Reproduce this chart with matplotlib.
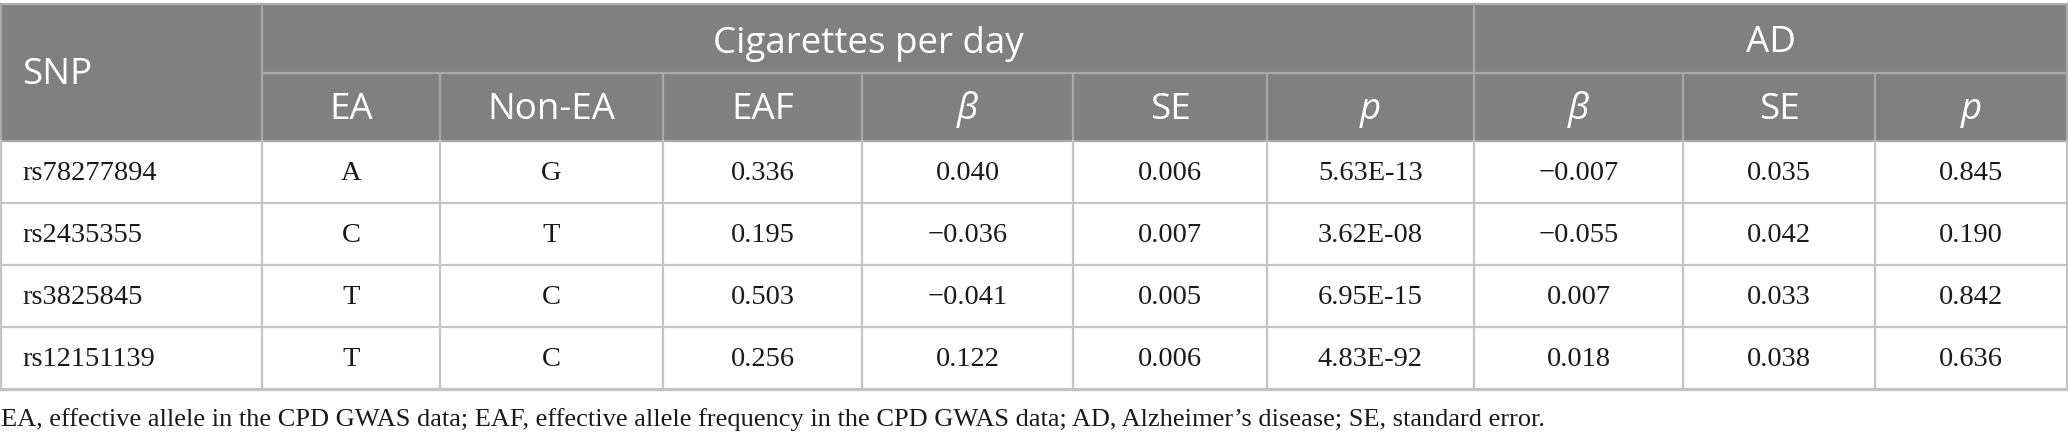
import matplotlib
matplotlib.use("Agg")
from matplotlib import pyplot as plt
from matplotlib.patches import Rectangle

# table contents
snps = ["rs78277894", "rs2435355", "rs3825845", "rs12151139"]
ea = ["A", "C", "T", "T"]
non_ea = ["G", "T", "C", "C"]
eaf = ["0.336", "0.195", "0.503", "0.256"]
cpd_beta = ["0.040", "\u22120.036", "\u22120.041", "0.122"]
cpd_se = ["0.006", "0.007", "0.005", "0.006"]
cpd_p = ["5.63E-13", "3.62E-08", "6.95E-15", "4.83E-92"]
ad_beta = ["\u22120.007", "\u22120.055", "0.007", "0.018"]
ad_se = ["0.035", "0.042", "0.033", "0.038"]
ad_p = ["0.845", "0.190", "0.842", "0.636"]

first_header = "SNP"
groups = ["Cigarettes per day", "AD"]
group_span = [(1, 7), (7, 10)]      # column index ranges
sub_headers = ["EA", "Non-EA", "EAF", "\u03b2", "SE", "p", "\u03b2", "SE", "p"]
italic_headers = {"\u03b2", "p"}

footnote = ("EA, effective allele in the CPD GWAS data; EAF, effective allele frequency "
            "in the CPD GWAS data; AD, Alzheimer\u2019s disease; SE, standard error.")

columns = [snps, ea, non_ea, eaf, cpd_beta, cpd_se, cpd_p, ad_beta, ad_se, ad_p]

# layout in pixels
W, H = 2068, 441
col_x = [1, 262, 440, 663, 862, 1073, 1267, 1474, 1683, 1875, 2067]
y_top, y_mid, y_head = 4, 73, 141
row_h = 62

head_bg = "#7f807f"
head_line = "#a8a8a8"
body_line = "#c4c4c4"
sans = "Open Sans"
serif = "Liberation Serif"

fig = plt.figure(figsize=(W / 100, H / 100), dpi=100)
ax = fig.add_axes([0, 0, 1, 1])
ax.set_xlim(0, W)
ax.set_ylim(H, 0)
ax.axis("off")

# header block
ax.add_patch(Rectangle((col_x[0], y_top), col_x[-1] - col_x[0], y_head - y_top,
                       facecolor=head_bg, edgecolor="none"))
ax.plot([col_x[0], col_x[-1]], [y_top, y_top], color="#b0b0b0", lw=1.5)

# header lines
ax.plot([col_x[1], col_x[-1]], [y_mid, y_mid], color=head_line, lw=1.6)
ax.plot([col_x[0], col_x[-1]], [y_head, y_head], color=head_line, lw=1.6)
for i, x in enumerate(col_x):
    if i in (0, 1, 7, len(col_x) - 1):
        ax.plot([x, x], [y_top, y_head], color=head_line, lw=1.6)
    else:
        ax.plot([x, x], [y_mid, y_head], color=head_line, lw=1.6)

# header text
ax.text(col_x[0] + 21, (y_top + y_head) / 2 + 2, first_header, color="white",
        fontsize=26.5, family=sans, ha="left", va="center")
for g, (a, b) in zip(groups, group_span):
    ax.text((col_x[a] + col_x[b]) / 2, (y_top + y_mid) / 2 + 5, g, color="white",
            fontsize=26.5, family=sans, ha="center", va="center")
for j, s in enumerate(sub_headers):
    cx = (col_x[j + 1] + col_x[j + 2]) / 2
    ax.text(cx, (y_mid + y_head) / 2 + 3, s, color="white", fontsize=26.5, family=sans,
            style="italic" if s in italic_headers else "normal", ha="center", va="center")

# body
n_rows = len(snps)
y_bottom = y_head + n_rows * row_h
for r in range(1, n_rows):
    y = y_head + r * row_h
    ax.plot([col_x[0], col_x[-1]], [y, y], color=body_line, lw=1.6)
ax.plot([col_x[0], col_x[-1]], [y_bottom, y_bottom], color=body_line, lw=2.4)
for x in col_x:
    ax.plot([x, x], [y_head, y_bottom], color=body_line, lw=1.6)

for c, values in enumerate(columns):
    for r, v in enumerate(values):
        cy = y_head + r * row_h + row_h / 2 + 1
        if c == 0:
            ax.text(col_x[0] + 21, cy, v, fontsize=20.5, family=serif, color="#1a1a1a",
                    ha="left", va="center")
        else:
            ax.text((col_x[c] + col_x[c + 1]) / 2, cy, v, fontsize=20.5, family=serif,
                    color="#1a1a1a", ha="center", va="center")

ax.text(1, 420, footnote, fontsize=19, family=serif, color="#1a1a1a",
        ha="left", va="center")

fig.savefig("out.png", dpi=100, facecolor="white")
